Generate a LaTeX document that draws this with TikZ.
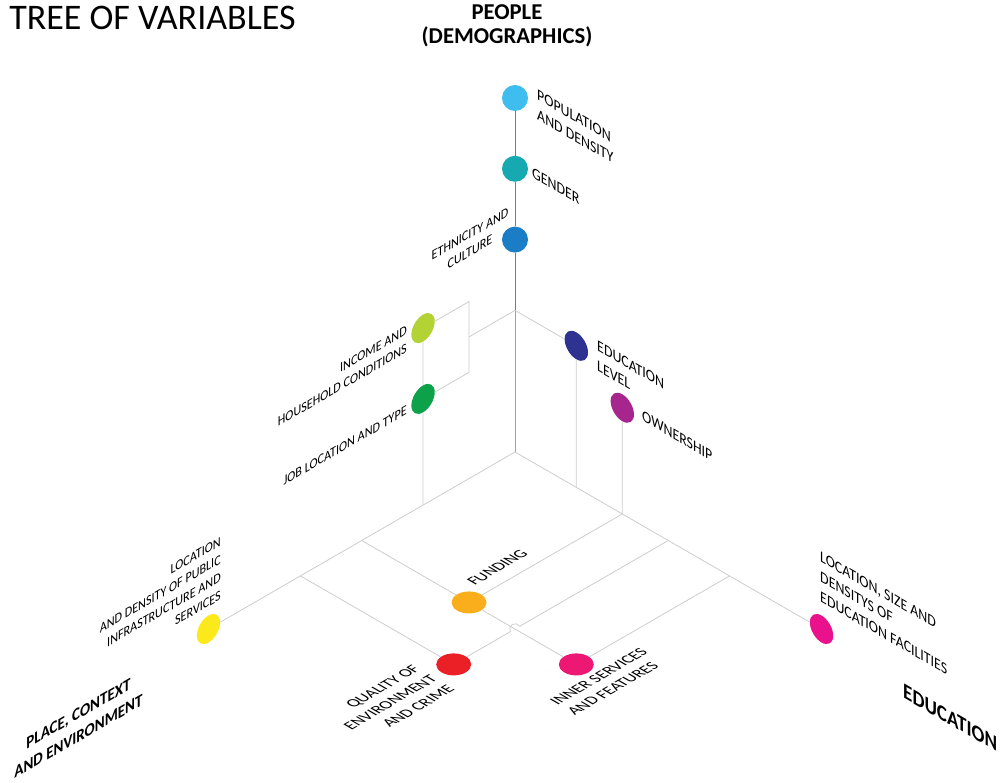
\documentclass[tikz,border=0pt]{standalone}
\usepackage{fontspec}
\setmainfont{Carlito}
\usepackage{xcolor}
\usepackage{tikz}
\usetikzlibrary{shapes.geometric,positioning,calc}

\definecolor{popblue}{HTML}{3FBDEE}
\definecolor{gendteal}{HTML}{16A9B1}
\definecolor{ethblue}{HTML}{1B7DC6}
\definecolor{incgreen}{HTML}{B3D234}
\definecolor{jobgreen}{HTML}{0DA24A}
\definecolor{edunavy}{HTML}{2E3391}
\definecolor{ownpurple}{HTML}{A6268E}
\definecolor{infyellow}{HTML}{FCE91B}
\definecolor{fundorange}{HTML}{FBAE1C}
\definecolor{crimered}{HTML}{EB2027}
\definecolor{innerpink}{HTML}{EC1874}
\definecolor{facmagenta}{HTML}{E9118C}
\definecolor{axisgray}{HTML}{7A7A7A}
\definecolor{lowgray}{HTML}{A0A0A0}
\definecolor{linegray}{HTML}{CDCDCD}

\newcommand{\lbl}{\fontsize{12}{15}\selectfont}
\newcommand{\lbls}{\fontsize{10.5}{13.5}\selectfont}

\tikzset{
    updot/.style={circle, fill=#1, inner sep=0pt, minimum size=19.5pt},
    ldot/.style={ellipse, fill=#1, inner sep=0pt, minimum width=24.75pt, minimum height=14.3pt, rotate=60},
    rdot/.style={ellipse, fill=#1, inner sep=0pt, minimum width=24.75pt, minimum height=14.3pt, rotate=-60},
    fdot/.style={ellipse, fill=#1, inner sep=0pt, minimum width=26.25pt, minimum height=16.5pt},
    iso/.style={draw=linegray, line width=0.6pt},
    rtext/.style={cm={0.866,-0.5,0,1,(0,0)}, transform shape, inner sep=0pt, font=\lbl},
    ltext/.style={cm={0.866,0.5,0,1,(0,0)}, transform shape, inner sep=0pt, font=\lbls},
    ftext/.style={cm={0.866,0.5,-0.866,0.5,(0,0)}, transform shape, inner sep=0pt, font=\lbl},
}

\begin{document}
\begin{tikzpicture}[x=0.75pt,y=0.75pt]
    \useasboundingbox (0,0) rectangle (1002,782);

    % Titles
    \node[anchor=north west, inner sep=0pt, font=\fontsize{27}{32}\selectfont] (title) at (9,776) {TREE OF VARIABLES};
    \node[anchor=north, inner sep=0pt, align=center, font=\bfseries\fontsize{17}{18}\selectfont] (people) at (507,778) {PEOPLE\\(DEMOGRAPHICS)};

    % Isometric tree: x = education axis, y = place axis, z = people axis
    \begin{scope}[shift={(515,330)}, x={(22.99pt,-13.275pt)}, y={(-22.99pt,-13.275pt)}, z={(0pt,26.55pt)}]
        \coordinate (O) at (0,0,0);
        \coordinate (U) at (0,0,4);
        \coordinate (R2) at (2,0,0);
        \coordinate (R35) at (3.5,0,0);
        \coordinate (R5) at (5,0,0);
        \coordinate (R7) at (7,0,0);
        \coordinate (L3) at (0,3,0);
        \coordinate (L5) at (0,5,0);
        \coordinate (L7) at (0,7,0);
        \coordinate (B5) at (0,1.5,5);
        \coordinate (B4) at (0,1.5,4);
        \coordinate (B3) at (0,1.5,3);
        \coordinate (X) at (5,5,0);

        % People
        \node[updot=popblue] (pop) at (0,0,10) {};
        \node[updot=gendteal] (gender) at (0,0,8) {};
        \node[updot=ethblue] (ethnic) at (0,0,6) {};
        \node[ldot=incgreen] (income) at (0,3,5) {};
        \node[ldot=jobgreen] (job) at (0,3,3) {};
        \node[rdot=edunavy] (edulevel) at (2,0,4) {};
        \node[rdot=ownpurple] (owner) at (3.5,0,3) {};
        % Place and education ends
        \node[ldot=infyellow] (infra) at (0,10,0) {};
        \node[rdot=facmagenta] (facil) at (10,0,0) {};
        % Floor
        \node[fdot=fundorange] (fund) at (3.5,5,0) {};
        \node[fdot=crimered] (crime) at (5,7,0) {};
        \node[fdot=innerpink] (inner) at (7,5,0) {};

        % Axes
        \draw[axisgray, line width=0.7pt] (U) -- (ethnic) -- (gender) -- (pop);
        \draw[lowgray, line width=0.7pt] (O) -- (U);
        \draw[iso] (infra) -- (O) -- (facil);

        % Branches
        \draw[iso] (U) -- (B4);
        \draw[iso] (U) -- (edulevel) -- (R2);
        \draw[iso] (income) -- (B5) -- (B3) -- (job);
        \draw[iso] (income) -- (job) -- (L3);
        \draw[iso] (owner) -- (R35);
        \draw[iso] (L5) -- (fund) -- (inner);
        \draw[iso] (fund) -- (R35);
        \draw[iso] (L7) -- (crime);
        \draw[iso] (inner) -- (R7);
        \draw[iso] (crime) -- ($(X)+(210:4pt)$) arc[start angle=210, end angle=30, radius=4pt] -- (R5);
    \end{scope}

    % Labels, right plane
    \node[rtext, anchor=north west, align=left] (poplbl) at (537,693) {POPULATION\\AND DENSITY};
    \node[rtext, anchor=north west] (genderlbl) at (532,615) {GENDER};
    \node[rtext, anchor=north west, align=left] (edulbl) at (597,442) {EDUCATION\\LEVEL};
    \node[rtext, anchor=north west] (ownlbl) at (642,372) {OWNERSHIP};
    \node[rtext, anchor=north west, align=left] (faclbl) at (820,231) {LOCATION, SIZE AND\\DENSITYS OF\\EDUCATION FACILITIES};
    \node[rtext, anchor=north west, font=\bfseries\fontsize{16.5}{18}\selectfont] (edutitle) at (903,99) {EDUCATION};

    % Labels, left plane
    \node[ltext, anchor=north, align=center] (ethlbl) at (470,553) {ETHNICITY AND\\CULTURE};
    \node[ltext, anchor=north east, align=right] (inclbl) at (407,457) {INCOME AND\\HOUSEHOLD CONDITIONS};
    \node[ltext, anchor=north east] (joblbl) at (407,377) {JOB LOCATION AND TYPE};
    \node[ltext, anchor=north east, align=right] (infralbl) at (221,246) {LOCATION\\AND DENSITY OF PUBLIC\\INFRASTRUCTURE AND\\SERVICES};
    \node[ltext, anchor=north, align=center, font=\bfseries\fontsize{13}{17}\selectfont] (placetitle) at (78.5,74.5) {PLACE, CONTEXT\\AND ENVIRONMENT};

    % Labels, floor
    \node[ftext, anchor=south west] (fundlbl) at (475,196) {FUNDING};
    \node[ftext, anchor=south east, align=right] (crimelbl) at (456,92) {QUALITY OF\\ENVIRONMENT\\AND CRIME};
    \node[ftext, anchor=south west, align=left] (innerlbl) at (575,66) {INNER SERVICES\\AND FEATURES};
\end{tikzpicture}
\end{document}
